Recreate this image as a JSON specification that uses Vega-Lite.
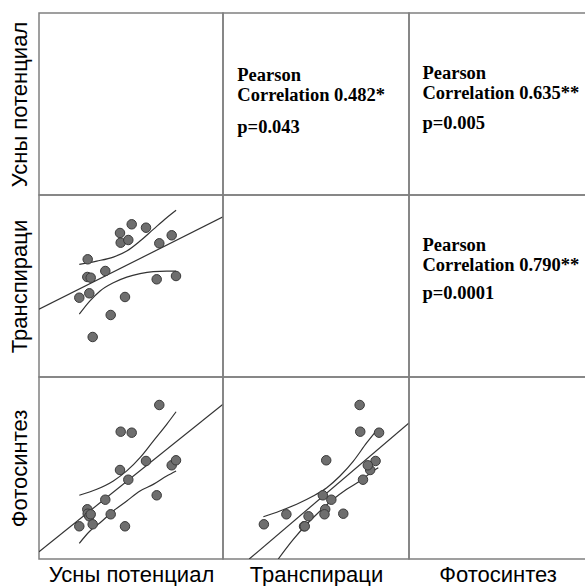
{
  "$schema": "https://vega.github.io/schema/vega-lite/v6.json",
  "padding": {"left": 7, "top": 12, "right": 0, "bottom": 0},
  "columns": 3,
  "spacing": 0,
  "align": "each",
  "bounds": "flush",
  "config": {
    "view": {"stroke": "#808080", "strokeWidth": 1.5},
    "axis": {"labels": false, "ticks": false, "domain": false, "grid": false, "titleFont": "Liberation Sans", "titleFontSize": 22, "titleFontWeight": "normal", "titleColor": "#000", "titlePadding": 8},
    "axisX": {"titlePadding": 5}
  },
  "datasets": {
    "obs": [
      {"U": 21.9, "T": 43.57, "F": 17.97},
      {"U": 26.25, "T": 54.95, "F": 27.31},
      {"U": 26.47, "T": 64.67, "F": 24.89},
      {"U": 27.34, "T": 45.99, "F": 23.46},
      {"U": 28.1, "T": 54.56, "F": 24.56},
      {"U": 29.18, "T": 21.98, "F": 19.07},
      {"U": 36.03, "T": 58.24, "F": 32.58},
      {"U": 38.97, "T": 34.07, "F": 24.56},
      {"U": 44.02, "T": 79.12, "F": 48.9},
      {"U": 44.4, "T": 73.79, "F": 69.95},
      {"U": 46.74, "T": 43.96, "F": 17.97},
      {"U": 48.53, "T": 75.27, "F": 43.57},
      {"U": 50.38, "T": 83.9, "F": 69.4},
      {"U": 58.15, "T": 82.03, "F": 53.85},
      {"U": 63.97, "T": 53.68, "F": 35.0},
      {"U": 65.38, "T": 73.46, "F": 84.62},
      {"U": 72.12, "T": 77.86, "F": 51.48},
      {"U": 74.46, "T": 55.49, "F": 54.23}
    ],
    "lines": [
      {"panel": "TU", "s": "fit", "x": 0, "y": 37.2},
      {"panel": "TU", "s": "fit", "x": 100, "y": 88.0},
      {"panel": "TU", "s": "up", "x": 21.9, "y": 61.9},
      {"panel": "TU", "s": "up", "x": 31.4, "y": 63.7},
      {"panel": "TU", "s": "up", "x": 40.4, "y": 65.9},
      {"panel": "TU", "s": "up", "x": 47.7, "y": 69.2},
      {"panel": "TU", "s": "up", "x": 54.9, "y": 74.7},
      {"panel": "TU", "s": "up", "x": 62.1, "y": 81.1},
      {"panel": "TU", "s": "up", "x": 69.4, "y": 87.5},
      {"panel": "TU", "s": "up", "x": 74.5, "y": 91.6},
      {"panel": "TU", "s": "lo", "x": 21.9, "y": 34.5},
      {"panel": "TU", "s": "lo", "x": 27.7, "y": 41.8},
      {"panel": "TU", "s": "lo", "x": 33.2, "y": 47.3},
      {"panel": "TU", "s": "lo", "x": 40.4, "y": 51.8},
      {"panel": "TU", "s": "lo", "x": 47.7, "y": 54.9},
      {"panel": "TU", "s": "lo", "x": 54.9, "y": 56.8},
      {"panel": "TU", "s": "lo", "x": 62.1, "y": 57.9},
      {"panel": "TU", "s": "lo", "x": 69.4, "y": 58.2},
      {"panel": "TU", "s": "lo", "x": 74.5, "y": 58.2},
      {"panel": "FU", "s": "fit", "x": 0, "y": 4.0},
      {"panel": "FU", "s": "fit", "x": 100, "y": 85.1},
      {"panel": "FU", "s": "up", "x": 21.9, "y": 35.0},
      {"panel": "FU", "s": "up", "x": 31.4, "y": 38.3},
      {"panel": "FU", "s": "up", "x": 40.4, "y": 42.9},
      {"panel": "FU", "s": "up", "x": 47.7, "y": 48.4},
      {"panel": "FU", "s": "up", "x": 54.9, "y": 55.7},
      {"panel": "FU", "s": "up", "x": 62.1, "y": 64.8},
      {"panel": "FU", "s": "up", "x": 69.4, "y": 74.0},
      {"panel": "FU", "s": "up", "x": 74.5, "y": 80.9},
      {"panel": "FU", "s": "lo", "x": 21.9, "y": 8.6},
      {"panel": "FU", "s": "lo", "x": 27.7, "y": 15.4},
      {"panel": "FU", "s": "lo", "x": 33.2, "y": 19.9},
      {"panel": "FU", "s": "lo", "x": 40.4, "y": 26.4},
      {"panel": "FU", "s": "lo", "x": 47.7, "y": 31.9},
      {"panel": "FU", "s": "lo", "x": 54.9, "y": 37.4},
      {"panel": "FU", "s": "lo", "x": 62.1, "y": 41.0},
      {"panel": "FU", "s": "lo", "x": 69.4, "y": 45.6},
      {"panel": "FU", "s": "lo", "x": 74.5, "y": 48.4},
      {"panel": "FT", "s": "fit", "x": 14.1, "y": 0},
      {"panel": "FT", "s": "fit", "x": 100, "y": 74.7},
      {"panel": "FT", "s": "up", "x": 21.7, "y": 23.2},
      {"panel": "FT", "s": "up", "x": 30.6, "y": 26.4},
      {"panel": "FT", "s": "up", "x": 39.6, "y": 30.1},
      {"panel": "FT", "s": "up", "x": 48.5, "y": 34.6},
      {"panel": "FT", "s": "up", "x": 55.8, "y": 39.2},
      {"panel": "FT", "s": "up", "x": 62.9, "y": 45.6},
      {"panel": "FT", "s": "up", "x": 70.1, "y": 53.8},
      {"panel": "FT", "s": "up", "x": 77.3, "y": 63.9},
      {"panel": "FT", "s": "up", "x": 83.5, "y": 71.8},
      {"panel": "FT", "s": "lo", "x": 29.7, "y": 0},
      {"panel": "FT", "s": "lo", "x": 37.8, "y": 10.8},
      {"panel": "FT", "s": "lo", "x": 45.0, "y": 19.1},
      {"panel": "FT", "s": "lo", "x": 52.2, "y": 26.4},
      {"panel": "FT", "s": "lo", "x": 59.3, "y": 32.8},
      {"panel": "FT", "s": "lo", "x": 66.5, "y": 38.3},
      {"panel": "FT", "s": "lo", "x": 73.7, "y": 42.9},
      {"panel": "FT", "s": "lo", "x": 80.8, "y": 48.4},
      {"panel": "FT", "s": "lo", "x": 83.5, "y": 50.2}
    ],
    "notes": [
      {"panel": "UT", "head": "Pearson\nCorrelation 0.482*", "p": "p=0.043"},
      {"panel": "UF", "head": "Pearson\nCorrelation 0.635**", "p": "p=0.005"},
      {"panel": "TF", "head": "Pearson\nCorrelation 0.790**", "p": "p=0.0001"}
    ]
  },
  "concat": [
    {
      "width": 184, "height": 182,
      "data": {"values": []},
      "mark": "point",
      "encoding": {
        "x": {"field": "a", "type": "quantitative", "scale": {"domain": [0, 100]}, "axis": null},
        "y": {"field": "b", "type": "quantitative", "scale": {"domain": [0, 100]}, "axis": {"title": "Усны потенциал"}}
      }
    },
    {
      "width": 186, "height": 182,
      "data": {"name": "notes"},
      "transform": [{"filter": "datum.panel === 'UT'"}],
      "layer": [
        {
          "mark": {"type": "text", "align": "left", "baseline": "alphabetic", "font": "Liberation Serif", "fontWeight": "bold", "fontSize": 18.5, "lineBreak": "\n", "lineHeight": 20, "color": "#000"},
          "encoding": {
            "text": {"field": "head"},
            "x": {"datum": 7.7, "type": "quantitative", "scale": {"domain": [0, 100]}, "axis": null},
            "y": {"datum": 62.6, "type": "quantitative", "scale": {"domain": [0, 100]}, "axis": null}
          }
        },
        {
          "mark": {"type": "text", "align": "left", "baseline": "alphabetic", "font": "Liberation Serif", "fontWeight": "bold", "fontSize": 18.5, "color": "#000"},
          "encoding": {
            "text": {"field": "p"},
            "x": {"datum": 7.7, "type": "quantitative", "scale": {"domain": [0, 100]}, "axis": null},
            "y": {"datum": 34.2, "type": "quantitative", "scale": {"domain": [0, 100]}, "axis": null}
          }
        }
      ]
    },
    {
      "width": 177, "height": 182,
      "data": {"name": "notes"},
      "transform": [{"filter": "datum.panel === 'UF'"}],
      "layer": [
        {
          "mark": {"type": "text", "align": "left", "baseline": "alphabetic", "font": "Liberation Serif", "fontWeight": "bold", "fontSize": 18.5, "lineBreak": "\n", "lineHeight": 20, "color": "#000"},
          "encoding": {
            "text": {"field": "head"},
            "x": {"datum": 7.6, "type": "quantitative", "scale": {"domain": [0, 100]}, "axis": null},
            "y": {"datum": 63.6, "type": "quantitative", "scale": {"domain": [0, 100]}, "axis": null}
          }
        },
        {
          "mark": {"type": "text", "align": "left", "baseline": "alphabetic", "font": "Liberation Serif", "fontWeight": "bold", "fontSize": 18.5, "color": "#000"},
          "encoding": {
            "text": {"field": "p"},
            "x": {"datum": 7.6, "type": "quantitative", "scale": {"domain": [0, 100]}, "axis": null},
            "y": {"datum": 36.1, "type": "quantitative", "scale": {"domain": [0, 100]}, "axis": null}
          }
        }
      ]
    },
    {
      "width": 184, "height": 182,
      "layer": [
        {
          "data": {"name": "lines"},
          "transform": [{"filter": "datum.panel === 'TU'"}],
          "mark": {"type": "line", "color": "#333", "strokeWidth": 1.2, "interpolate": "monotone", "clip": true},
          "encoding": {
            "x": {"field": "x", "type": "quantitative", "scale": {"domain": [0, 100], "nice": false, "zero": false}, "axis": null},
            "y": {"field": "y", "type": "quantitative", "scale": {"domain": [0, 100], "nice": false, "zero": false}, "axis": {"title": "Транспираци"}},
            "detail": {"field": "s"}
          }
        },
        {
          "data": {"name": "obs"},
          "mark": {"type": "point", "filled": true, "size": 90, "fill": "#6e6e6e", "stroke": "#3a3a3a", "strokeWidth": 1, "opacity": 1},
          "encoding": {
            "x": {"field": "U", "type": "quantitative", "axis": null},
            "y": {"field": "T", "type": "quantitative", "axis": {"title": "Транспираци"}}
          }
        }
      ]
    },
    {
      "width": 186, "height": 182,
      "data": {"values": []},
      "mark": "point",
      "encoding": {
        "x": {"field": "a", "type": "quantitative", "scale": {"domain": [0, 100]}, "axis": null},
        "y": {"field": "b", "type": "quantitative", "scale": {"domain": [0, 100]}, "axis": null}
      }
    },
    {
      "width": 177, "height": 182,
      "data": {"name": "notes"},
      "transform": [{"filter": "datum.panel === 'TF'"}],
      "layer": [
        {
          "mark": {"type": "text", "align": "left", "baseline": "alphabetic", "font": "Liberation Serif", "fontWeight": "bold", "fontSize": 18.5, "lineBreak": "\n", "lineHeight": 20, "color": "#000"},
          "encoding": {
            "text": {"field": "head"},
            "x": {"datum": 7.6, "type": "quantitative", "scale": {"domain": [0, 100]}, "axis": null},
            "y": {"datum": 69.2, "type": "quantitative", "scale": {"domain": [0, 100]}, "axis": null}
          }
        },
        {
          "mark": {"type": "text", "align": "left", "baseline": "alphabetic", "font": "Liberation Serif", "fontWeight": "bold", "fontSize": 18.5, "color": "#000"},
          "encoding": {
            "text": {"field": "p"},
            "x": {"datum": 7.6, "type": "quantitative", "scale": {"domain": [0, 100]}, "axis": null},
            "y": {"datum": 42.9, "type": "quantitative", "scale": {"domain": [0, 100]}, "axis": null}
          }
        }
      ]
    },
    {
      "width": 184, "height": 182,
      "layer": [
        {
          "data": {"name": "lines"},
          "transform": [{"filter": "datum.panel === 'FU'"}],
          "mark": {"type": "line", "color": "#333", "strokeWidth": 1.2, "interpolate": "monotone", "clip": true},
          "encoding": {
            "x": {"field": "x", "type": "quantitative", "scale": {"domain": [0, 100], "nice": false, "zero": false}, "axis": {"title": "Усны потенциал"}},
            "y": {"field": "y", "type": "quantitative", "scale": {"domain": [0, 100], "nice": false, "zero": false}, "axis": {"title": "Фотосинтез"}},
            "detail": {"field": "s"}
          }
        },
        {
          "data": {"name": "obs"},
          "mark": {"type": "point", "filled": true, "size": 90, "fill": "#6e6e6e", "stroke": "#3a3a3a", "strokeWidth": 1, "opacity": 1},
          "encoding": {
            "x": {"field": "U", "type": "quantitative", "axis": {"title": "Усны потенциал"}},
            "y": {"field": "F", "type": "quantitative", "axis": {"title": "Фотосинтез"}}
          }
        }
      ]
    },
    {
      "width": 186, "height": 182,
      "layer": [
        {
          "data": {"name": "lines"},
          "transform": [{"filter": "datum.panel === 'FT'"}],
          "mark": {"type": "line", "color": "#333", "strokeWidth": 1.2, "interpolate": "monotone", "clip": true},
          "encoding": {
            "x": {"field": "x", "type": "quantitative", "scale": {"domain": [0, 100], "nice": false, "zero": false}, "axis": {"title": "Транспираци"}},
            "y": {"field": "y", "type": "quantitative", "scale": {"domain": [0, 100], "nice": false, "zero": false}, "axis": null},
            "detail": {"field": "s"}
          }
        },
        {
          "data": {"name": "obs"},
          "mark": {"type": "point", "filled": true, "size": 90, "fill": "#6e6e6e", "stroke": "#3a3a3a", "strokeWidth": 1, "opacity": 1},
          "encoding": {
            "x": {"field": "T", "type": "quantitative", "axis": {"title": "Транспираци"}},
            "y": {"field": "F", "type": "quantitative", "axis": null}
          }
        }
      ]
    },
    {
      "width": 177, "height": 182,
      "data": {"values": []},
      "mark": "point",
      "encoding": {
        "x": {"field": "a", "type": "quantitative", "scale": {"domain": [0, 100]}, "axis": {"title": "Фотосинтез"}},
        "y": {"field": "b", "type": "quantitative", "scale": {"domain": [0, 100]}, "axis": null}
      }
    }
  ]
}
